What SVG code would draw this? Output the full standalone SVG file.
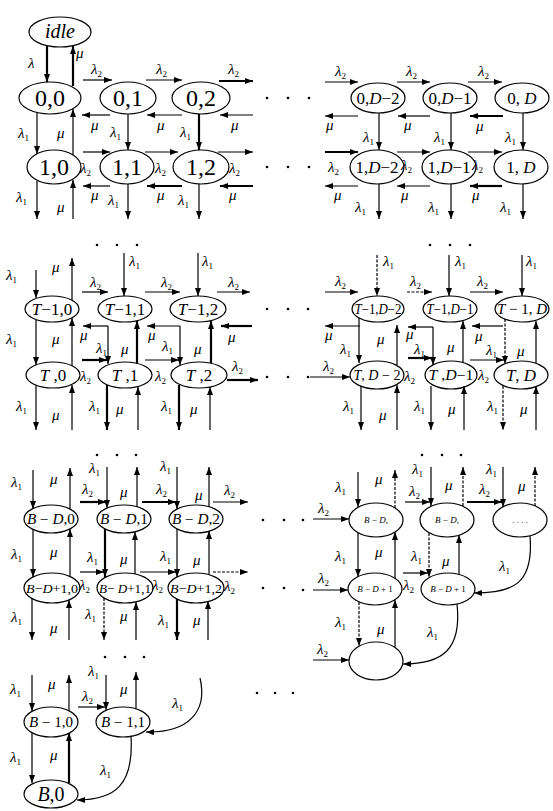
<svg xmlns="http://www.w3.org/2000/svg" width="553" height="811" viewBox="0 0 553 811">
<defs>
<marker id="a" viewBox="0 0 8 6" refX="8" refY="3" markerWidth="8" markerHeight="6" markerUnits="userSpaceOnUse" orient="auto"><path d="M0,0L8,3L0,6z" fill="#000"/></marker>
<style>
.n ellipse{fill:#fff;stroke:#000;stroke-width:1.2}
.n text{font-family:"Liberation Serif",serif;text-anchor:middle;fill:#000}
.big{font-size:24px}
.md{font-size:17px}
.sm{font-size:14px}
.xs{font-size:9px}
.i{font-style:italic}
#edges line,#edges path{stroke:#000;stroke-width:1.2;fill:none;marker-end:url(#a)}
#edges .t{stroke-width:2.2}
#edges .d{stroke-dasharray:3 1.5}
.l{font-family:"Liberation Serif",serif;font-style:italic;font-size:15px;fill:#000}
.s{font-size:9px;font-style:normal}
#dots circle{fill:#000}
</style>
</defs>
<rect width="553" height="811" fill="#fff"/>

<g id="n-idle" class="n"><ellipse cx="60" cy="32" rx="31" ry="15"/><text x="60" y="38" class="i" style="font-size:20px">idle</text></g>
<g id="n-0-0" class="n"><ellipse cx="50" cy="98" rx="31" ry="16"/><text x="50" y="106" class="big">0,0</text></g>
<g id="n-0-1" class="n"><ellipse cx="128" cy="98" rx="28" ry="16"/><text x="128" y="106" class="big">0,1</text></g>
<g id="n-0-2" class="n"><ellipse cx="201" cy="98" rx="29" ry="16"/><text x="201" y="106" class="big">0,2</text></g>
<g id="n-1-0" class="n"><ellipse cx="54" cy="167" rx="27" ry="17"/><text x="54" y="175" class="big">1,0</text></g>
<g id="n-1-1" class="n"><ellipse cx="127" cy="167" rx="27" ry="17"/><text x="127" y="175" class="big">1,1</text></g>
<g id="n-1-2" class="n"><ellipse cx="201" cy="167" rx="28" ry="17"/><text x="201" y="175" class="big">1,2</text></g>

<g id="n-0-D2" class="n"><ellipse cx="378" cy="98" rx="27" ry="15"/><text x="378" y="104" class="md">0,<tspan class="i">D</tspan>−2</text></g>
<g id="n-0-D1" class="n"><ellipse cx="450" cy="98" rx="27" ry="15"/><text x="450" y="104" class="md">0,<tspan class="i">D</tspan>−1</text></g>
<g id="n-0-D" class="n"><ellipse cx="522" cy="98" rx="27" ry="15"/><text x="522" y="104" class="md">0, <tspan class="i">D</tspan></text></g>
<g id="n-1-D2" class="n"><ellipse cx="377" cy="167" rx="27" ry="17"/><text x="377" y="173" class="md">1,<tspan class="i">D</tspan>−2</text></g>
<g id="n-1-D1" class="n"><ellipse cx="449" cy="167" rx="27" ry="17"/><text x="449" y="173" class="md">1,<tspan class="i">D</tspan>−1</text></g>
<g id="n-1-D" class="n"><ellipse cx="521" cy="167" rx="27" ry="17"/><text x="521" y="173" class="md">1, <tspan class="i">D</tspan></text></g>

<g id="n-T1-0" class="n"><ellipse cx="52" cy="309" rx="27" ry="13"/><text x="52" y="315" class="md"><tspan class="i">T</tspan>−1,0</text></g>
<g id="n-T1-1" class="n"><ellipse cx="125" cy="309" rx="27" ry="13"/><text x="125" y="315" class="md"><tspan class="i">T</tspan>−1,1</text></g>
<g id="n-T1-2" class="n"><ellipse cx="198" cy="309" rx="28" ry="13"/><text x="198" y="315" class="md"><tspan class="i">T</tspan>−1,2</text></g>
<g id="n-T-0" class="n"><ellipse cx="53" cy="375" rx="27" ry="13"/><text x="53" y="381" class="md"><tspan class="i">T</tspan> ,0</text></g>
<g id="n-T-1" class="n"><ellipse cx="125" cy="375" rx="27" ry="13"/><text x="125" y="381" class="md"><tspan class="i">T</tspan> ,1</text></g>
<g id="n-T-2" class="n"><ellipse cx="199" cy="375" rx="28" ry="13"/><text x="199" y="381" class="md"><tspan class="i">T</tspan> ,2</text></g>

<g id="n-T1-D2" class="n"><ellipse cx="378" cy="309" rx="26" ry="13"/><text x="378" y="314" class="sm" textLength="47" lengthAdjust="spacingAndGlyphs"><tspan class="i">T</tspan>−1,<tspan class="i">D</tspan>−2</text></g>
<g id="n-T1-D1" class="n"><ellipse cx="450" cy="309" rx="27" ry="13"/><text x="450" y="314" class="sm" textLength="47" lengthAdjust="spacingAndGlyphs"><tspan class="i">T</tspan>−1,<tspan class="i">D</tspan>−1</text></g>
<g id="n-T1-D" class="n"><ellipse cx="522" cy="309" rx="27" ry="13"/><text x="522" y="314" style="font-size:15px"><tspan class="i">T</tspan> − 1, <tspan class="i">D</tspan></text></g>
<g id="n-T-D2" class="n"><ellipse cx="377" cy="375" rx="27" ry="14"/><text x="377" y="380" class="sm" textLength="47" lengthAdjust="spacingAndGlyphs"><tspan class="i">T</tspan>, <tspan class="i">D</tspan> − 2</text></g>
<g id="n-T-D1" class="n"><ellipse cx="451" cy="375" rx="26" ry="14"/><text x="451" y="380" class="sm" textLength="45" lengthAdjust="spacingAndGlyphs"><tspan class="i">T</tspan> ,<tspan class="i">D</tspan>−1</text></g>
<g id="n-T-D" class="n"><ellipse cx="521" cy="375" rx="27" ry="14"/><text x="521" y="381" class="md"><tspan class="i">T</tspan>, <tspan class="i">D</tspan></text></g>

<g id="n-BD-0" class="n"><ellipse cx="51" cy="519" rx="27" ry="14"/><text x="51" y="524" class="sm" textLength="48" lengthAdjust="spacingAndGlyphs"><tspan class="i">B</tspan> − <tspan class="i">D</tspan>,0</text></g>
<g id="n-BD-1" class="n"><ellipse cx="124" cy="519" rx="27" ry="14"/><text x="124" y="524" class="sm" textLength="48" lengthAdjust="spacingAndGlyphs"><tspan class="i">B</tspan> − <tspan class="i">D</tspan>,1</text></g>
<g id="n-BD-2" class="n"><ellipse cx="196" cy="519" rx="27" ry="14"/><text x="196" y="524" class="sm" textLength="48" lengthAdjust="spacingAndGlyphs"><tspan class="i">B</tspan> − <tspan class="i">D</tspan>,2</text></g>
<g id="n-BD1-0" class="n"><ellipse cx="52" cy="588" rx="28" ry="15"/><text x="52" y="593" style="font-size:13px" textLength="52" lengthAdjust="spacingAndGlyphs"><tspan class="i">B</tspan>−<tspan class="i">D</tspan>+1,0</text></g>
<g id="n-BD1-1" class="n"><ellipse cx="125" cy="588" rx="28" ry="15"/><text x="125" y="593" style="font-size:13px" textLength="52" lengthAdjust="spacingAndGlyphs"><tspan class="i">B</tspan>− <tspan class="i">D</tspan>+1,1</text></g>
<g id="n-BD1-2" class="n"><ellipse cx="196" cy="588" rx="28" ry="15"/><text x="196" y="593" style="font-size:13px" textLength="52" lengthAdjust="spacingAndGlyphs"><tspan class="i">B</tspan>−<tspan class="i">D</tspan>+1,2</text></g>
<g id="n-B1-0" class="n"><ellipse cx="51" cy="722" rx="27" ry="15"/><text x="51" y="727" class="sm" textLength="44" lengthAdjust="spacingAndGlyphs"><tspan class="i">B</tspan> − 1,0</text></g>
<g id="n-B1-1" class="n"><ellipse cx="123" cy="722" rx="27" ry="15"/><text x="123" y="727" class="sm" textLength="44" lengthAdjust="spacingAndGlyphs"><tspan class="i">B</tspan> − 1,1</text></g>
<g id="n-B-0" class="n"><ellipse cx="51" cy="794" rx="27" ry="14"/><text x="51" y="801" style="font-size:20px"><tspan class="i">B</tspan>,0</text></g>

<g id="n-r-a1" class="n"><ellipse cx="376" cy="520" rx="27" ry="17"/><text x="376" y="523" class="xs"><tspan class="i">B</tspan> − <tspan class="i">D</tspan>,</text></g>
<g id="n-r-a2" class="n"><ellipse cx="447" cy="520" rx="27" ry="17"/><text x="447" y="523" class="xs"><tspan class="i">B</tspan> − <tspan class="i">D</tspan>,</text></g>
<g id="n-r-a3" class="n"><ellipse cx="520" cy="520" rx="27" ry="17"/><text x="520" y="523" class="xs">.  .  . .</text></g>
<g id="n-r-b1" class="n"><ellipse cx="375" cy="589" rx="27" ry="16"/><text x="375" y="592" class="xs"><tspan class="i">B</tspan> − <tspan class="i">D</tspan> + 1</text></g>
<g id="n-r-b2" class="n"><ellipse cx="448" cy="589" rx="27" ry="16"/><text x="448" y="592" class="xs"><tspan class="i">B</tspan> − <tspan class="i">D</tspan> + 1</text></g>
<g id="n-r-c" class="n"><ellipse cx="376" cy="661" rx="27" ry="19"/></g>

<g id="edges">
<line class="t" x1="47" y1="46" x2="47" y2="82"/>
<line class="t" x1="73" y1="86" x2="73" y2="46"/>
<line x1="83" y1="80" x2="112" y2="80"/>
<line x1="146" y1="80" x2="182" y2="80"/>
<line class="t" x1="219" y1="81" x2="253" y2="81"/>
<line x1="110" y1="115" x2="82" y2="115"/>
<line x1="182" y1="115" x2="147" y2="115"/>
<line x1="253" y1="115" x2="220" y2="115"/>
<line x1="37" y1="113" x2="37" y2="154"/>
<line x1="73" y1="155" x2="73" y2="109"/>
<line x1="128" y1="114" x2="128" y2="150"/>
<line class="t" x1="199" y1="114" x2="199" y2="150"/>
<line x1="83" y1="152" x2="110" y2="152"/>
<line x1="145" y1="152" x2="178" y2="152"/>
<line x1="218" y1="152" x2="253" y2="152"/>
<line x1="110" y1="186" x2="83" y2="186"/>
<line class="t" x1="182" y1="186" x2="147" y2="186"/>
<line class="t" x1="253" y1="186" x2="220" y2="186"/>
<line x1="37" y1="181" x2="37" y2="219"/>
<line x1="73" y1="219" x2="73" y2="180"/>
<line x1="128" y1="184" x2="128" y2="219"/>
<line x1="199" y1="184" x2="199" y2="219"/>

<line x1="325" y1="82" x2="358" y2="82"/>
<line x1="397" y1="82" x2="430" y2="82"/>
<line x1="468" y1="82" x2="502" y2="82"/>
<line x1="358" y1="116" x2="325" y2="116"/>
<line x1="430" y1="116" x2="398" y2="116"/>
<line class="t" x1="503" y1="116" x2="470" y2="116"/>
<line x1="379" y1="113" x2="379" y2="150"/>
<line x1="451" y1="113" x2="451" y2="150"/>
<line x1="523" y1="113" x2="523" y2="150"/>
<line class="t" x1="325" y1="152" x2="358" y2="152"/>
<line x1="397" y1="152" x2="430" y2="152"/>
<line x1="468" y1="152" x2="502" y2="152"/>
<line x1="358" y1="186" x2="325" y2="186"/>
<line x1="430" y1="186" x2="397" y2="186"/>
<line class="t" x1="502" y1="186" x2="470" y2="186"/>
<line x1="379" y1="184" x2="379" y2="219"/>
<line x1="451" y1="184" x2="451" y2="219"/>
<line x1="523" y1="184" x2="523" y2="219"/>

<line x1="36" y1="270" x2="36" y2="298"/>
<line x1="72" y1="300" x2="72" y2="258"/>
<line x1="124" y1="253" x2="124" y2="296"/>
<line x1="198" y1="253" x2="198" y2="296"/>
<line x1="82" y1="292" x2="108" y2="292"/>
<line x1="145" y1="292" x2="180" y2="292"/>
<line x1="217" y1="292" x2="250" y2="292"/>
<line x1="36" y1="320" x2="36" y2="365"/>
<line x1="72" y1="366" x2="72" y2="318"/>
<line x1="108" y1="326" x2="83" y2="326"/>
<line x1="108" y1="326" x2="108" y2="364"/>
<line class="t" x1="82" y1="360" x2="107" y2="360"/>
<line class="t" x1="137" y1="363" x2="137" y2="321"/>
<line x1="180" y1="326" x2="147" y2="326"/>
<line x1="180" y1="326" x2="180" y2="365"/>
<line x1="145" y1="360" x2="179" y2="360"/>
<line class="t" x1="211" y1="363" x2="211" y2="321"/>
<line class="t" x1="252" y1="326" x2="221" y2="326"/>
<line class="t" x1="227" y1="380" x2="258" y2="380"/>
<line x1="36" y1="385" x2="36" y2="430"/>
<line x1="72" y1="430" x2="72" y2="385"/>
<line class="t" x1="107" y1="385" x2="107" y2="430"/>
<line x1="138" y1="430" x2="138" y2="387"/>
<line class="t" x1="179" y1="385" x2="179" y2="430"/>
<line x1="210" y1="430" x2="210" y2="387"/>

<line class="d" x1="377" y1="255" x2="377" y2="296"/>
<line x1="325" y1="292" x2="358" y2="292"/>
<line x1="449" y1="255" x2="449" y2="296"/>
<line class="d" x1="407" y1="292" x2="432" y2="292"/>
<line x1="522" y1="255" x2="522" y2="296"/>
<line x1="470" y1="292" x2="503" y2="292"/>
<line x1="360" y1="326" x2="325" y2="326"/>
<line x1="359" y1="318" x2="359" y2="363"/>
<line x1="397" y1="365" x2="397" y2="325"/>
<line x1="433" y1="327" x2="408" y2="327"/>
<line x1="433" y1="327" x2="433" y2="365"/>
<line class="t" x1="408" y1="358" x2="432" y2="358"/>
<line x1="463" y1="363" x2="463" y2="321"/>
<line x1="503" y1="326" x2="472" y2="326"/>
<line class="d" x1="505" y1="319" x2="505" y2="364"/>
<line x1="470" y1="360" x2="504" y2="360"/>
<line x1="536" y1="363" x2="536" y2="321"/>
<line x1="310" y1="377" x2="350" y2="377"/>
<line x1="361" y1="386" x2="361" y2="430"/>
<line x1="397" y1="430" x2="397" y2="385"/>
<line x1="431" y1="386" x2="431" y2="430"/>
<line x1="464" y1="430" x2="464" y2="386"/>
<line class="d" x1="503" y1="386" x2="503" y2="430"/>
<line x1="536" y1="430" x2="536" y2="386"/>

<line x1="33" y1="470" x2="33" y2="509"/>
<line x1="70" y1="509" x2="70" y2="468"/>
<line x1="107" y1="467" x2="107" y2="508"/>
<line x1="137" y1="507" x2="137" y2="467"/>
<line class="t" x1="80" y1="502" x2="106" y2="502"/>
<line x1="177" y1="467" x2="177" y2="509"/>
<line x1="209" y1="507" x2="209" y2="467"/>
<line class="t" x1="142" y1="502" x2="176" y2="502"/>
<line x1="213" y1="502" x2="248" y2="502"/>
<line x1="33" y1="529" x2="33" y2="577"/>
<line x1="70" y1="576" x2="70" y2="529"/>
<line class="t" x1="105" y1="529" x2="105" y2="577"/>
<line x1="135" y1="574" x2="135" y2="532"/>
<line x1="177" y1="529" x2="177" y2="577"/>
<line x1="209" y1="575" x2="209" y2="531"/>
<line x1="80" y1="572" x2="104" y2="572"/>
<line x1="140" y1="572" x2="176" y2="572"/>
<line class="d" x1="213" y1="572" x2="248" y2="572"/>
<line x1="32" y1="598" x2="32" y2="640"/>
<line x1="69" y1="640" x2="69" y2="600"/>
<line class="d" x1="104" y1="598" x2="104" y2="640"/>
<line x1="136" y1="640" x2="136" y2="602"/>
<line class="t" x1="177" y1="599" x2="177" y2="640"/>
<line x1="208" y1="640" x2="208" y2="601"/>
<line x1="32" y1="675" x2="32" y2="711"/>
<line x1="69" y1="711" x2="69" y2="675"/>
<line x1="106" y1="675" x2="106" y2="710"/>
<line x1="136" y1="709" x2="136" y2="672"/>
<line x1="78" y1="707" x2="105" y2="707"/>
<path d="M200,678 C208,712 188,733 146,732"/>
<line x1="32" y1="733" x2="32" y2="783"/>
<line class="t" x1="69" y1="783" x2="69" y2="733"/>
<path d="M131,736 C134,785 115,800 77,800"/>

<line x1="358" y1="472" x2="358" y2="507"/>
<line class="d" x1="395" y1="508" x2="395" y2="470"/>
<line x1="313" y1="519" x2="349" y2="519"/>
<line x1="431" y1="467" x2="431" y2="506"/>
<line x1="405" y1="502" x2="430" y2="502"/>
<line class="d" x1="463" y1="506" x2="463" y2="467"/>
<line x1="503" y1="467" x2="503" y2="507"/>
<line class="t" x1="467" y1="502" x2="502" y2="502"/>
<line class="d" x1="535" y1="506" x2="535" y2="467"/>
<line x1="358" y1="533" x2="358" y2="577"/>
<line x1="395" y1="578" x2="395" y2="532"/>
<line class="d" x1="429" y1="533" x2="429" y2="577"/>
<line x1="459" y1="574" x2="459" y2="535"/>
<line x1="403" y1="573" x2="428" y2="573"/>
<path d="M530,536 C534,585 512,593 474,593"/>
<line x1="313" y1="590" x2="348" y2="590"/>
<line class="d" x1="359" y1="602" x2="359" y2="646"/>
<line x1="395" y1="647" x2="395" y2="600"/>
<path d="M457,604 C462,650 442,664 403,664"/>
<line x1="313" y1="660" x2="349" y2="660"/>
</g>

<g id="labels">
<text class="l" x="28" y="68">λ</text>
<text class="l" x="76" y="58">μ</text>
<text class="l" x="91" y="74">λ<tspan class="s" dy="3">2</tspan></text>
<text class="l" x="156" y="74">λ<tspan class="s" dy="3">2</tspan></text>
<text class="l" x="228" y="74">λ<tspan class="s" dy="3">2</tspan></text>
<text class="l" x="91" y="130">μ</text>
<text class="l" x="157" y="130">μ</text>
<text class="l" x="231" y="130">μ</text>
<text class="l" x="18" y="138">λ<tspan class="s" dy="3">1</tspan></text>
<text class="l" x="57" y="138">μ</text>
<text class="l" x="110" y="137">λ<tspan class="s" dy="3">1</tspan></text>
<text class="l" x="180" y="137">λ<tspan class="s" dy="3">1</tspan></text>
<text class="l" x="80" y="173">λ<tspan class="s" dy="3">2</tspan></text>
<text class="l" x="155" y="173">λ<tspan class="s" dy="3">2</tspan></text>
<text class="l" x="229" y="173">λ<tspan class="s" dy="3">2</tspan></text>
<text class="l" x="91" y="200">μ</text>
<text class="l" x="157" y="200">μ</text>
<text class="l" x="229" y="200">μ</text>
<text class="l" x="16" y="202">λ<tspan class="s" dy="3">1</tspan></text>
<text class="l" x="57" y="212">μ</text>
<text class="l" x="108" y="205">λ<tspan class="s" dy="3">1</tspan></text>
<text class="l" x="178" y="205">λ<tspan class="s" dy="3">1</tspan></text>

<text class="l" x="335" y="76">λ<tspan class="s" dy="3">2</tspan></text>
<text class="l" x="406" y="76">λ<tspan class="s" dy="3">2</tspan></text>
<text class="l" x="478" y="76">λ<tspan class="s" dy="3">2</tspan></text>
<text class="l" x="326" y="130">μ</text>
<text class="l" x="404" y="130">μ</text>
<text class="l" x="476" y="131">μ</text>
<text class="l" x="363" y="142">λ<tspan class="s" dy="3">1</tspan></text>
<text class="l" x="434" y="142">λ<tspan class="s" dy="3">1</tspan></text>
<text class="l" x="505" y="142">λ<tspan class="s" dy="3">1</tspan></text>
<text class="l" x="328" y="172">λ<tspan class="s" dy="3">2</tspan></text>
<text class="l" x="401" y="170">λ<tspan class="s" dy="3">2</tspan></text>
<text class="l" x="472" y="170">λ<tspan class="s" dy="3">2</tspan></text>
<text class="l" x="334" y="200">μ</text>
<text class="l" x="401" y="200">μ</text>
<text class="l" x="472" y="200">μ</text>
<text class="l" x="355" y="212">λ<tspan class="s" dy="3">1</tspan></text>
<text class="l" x="428" y="212">λ<tspan class="s" dy="3">1</tspan></text>
<text class="l" x="500" y="212">λ<tspan class="s" dy="3">1</tspan></text>

<text class="l" x="6" y="280">λ<tspan class="s" dy="3">1</tspan></text>
<text class="l" x="52" y="272">μ</text>
<text class="l" x="129" y="266">λ<tspan class="s" dy="3">1</tspan></text>
<text class="l" x="202" y="266">λ<tspan class="s" dy="3">1</tspan></text>
<text class="l" x="90" y="287">λ<tspan class="s" dy="3">2</tspan></text>
<text class="l" x="161" y="287">λ<tspan class="s" dy="3">2</tspan></text>
<text class="l" x="228" y="287">λ<tspan class="s" dy="3">2</tspan></text>
<text class="l" x="6" y="344">λ<tspan class="s" dy="3">1</tspan></text>
<text class="l" x="52" y="344">μ</text>
<text class="l" x="80" y="340">μ</text>
<text class="l" x="96" y="353">λ<tspan class="s" dy="3">1</tspan></text>
<text class="l" x="121" y="354">μ</text>
<text class="l" x="148" y="340">μ</text>
<text class="l" x="162" y="351">λ<tspan class="s" dy="3">1</tspan></text>
<text class="l" x="194" y="354">μ</text>
<text class="l" x="228" y="342">μ</text>
<text class="l" x="80" y="381">λ<tspan class="s" dy="3">2</tspan></text>
<text class="l" x="155" y="381">λ<tspan class="s" dy="3">2</tspan></text>
<text class="l" x="232" y="371">λ<tspan class="s" dy="3">2</tspan></text>
<text class="l" x="16" y="411">λ<tspan class="s" dy="3">1</tspan></text>
<text class="l" x="52" y="420">μ</text>
<text class="l" x="89" y="411">λ<tspan class="s" dy="3">1</tspan></text>
<text class="l" x="116" y="414">μ</text>
<text class="l" x="161" y="411">λ<tspan class="s" dy="3">1</tspan></text>
<text class="l" x="190" y="414">μ</text>

<text class="l" x="383" y="266">λ<tspan class="s" dy="3">1</tspan></text>
<text class="l" x="335" y="286">λ<tspan class="s" dy="3">2</tspan></text>
<text class="l" x="455" y="266">λ<tspan class="s" dy="3">1</tspan></text>
<text class="l" x="410" y="286">λ<tspan class="s" dy="3">2</tspan></text>
<text class="l" x="526" y="266">λ<tspan class="s" dy="3">1</tspan></text>
<text class="l" x="477" y="286">λ<tspan class="s" dy="3">2</tspan></text>
<text class="l" x="325" y="340">μ</text>
<text class="l" x="340" y="354">λ<tspan class="s" dy="3">1</tspan></text>
<text class="l" x="377" y="344">μ</text>
<text class="l" x="406" y="339">μ</text>
<text class="l" x="414" y="354">λ<tspan class="s" dy="3">1</tspan></text>
<text class="l" x="447" y="352">μ</text>
<text class="l" x="475" y="341">μ</text>
<text class="l" x="486" y="355">λ<tspan class="s" dy="3">1</tspan></text>
<text class="l" x="517" y="356">μ</text>
<text class="l" x="323" y="371">λ<tspan class="s" dy="3">2</tspan></text>
<text class="l" x="404" y="381">λ<tspan class="s" dy="3">2</tspan></text>
<text class="l" x="478" y="380">λ<tspan class="s" dy="3">2</tspan></text>
<text class="l" x="343" y="411">λ<tspan class="s" dy="3">1</tspan></text>
<text class="l" x="379" y="420">μ</text>
<text class="l" x="414" y="411">λ<tspan class="s" dy="3">1</tspan></text>
<text class="l" x="448" y="414">μ</text>
<text class="l" x="487" y="411">λ<tspan class="s" dy="3">1</tspan></text>
<text class="l" x="520" y="414">μ</text>

<text class="l" x="11" y="487">λ<tspan class="s" dy="3">1</tspan></text>
<text class="l" x="50" y="484">μ</text>
<text class="l" x="89" y="473">λ<tspan class="s" dy="3">1</tspan></text>
<text class="l" x="120" y="497">μ</text>
<text class="l" x="82" y="494">λ<tspan class="s" dy="3">2</tspan></text>
<text class="l" x="160" y="471">λ<tspan class="s" dy="3">1</tspan></text>
<text class="l" x="195" y="500">μ</text>
<text class="l" x="156" y="494">λ<tspan class="s" dy="3">2</tspan></text>
<text class="l" x="224" y="495">λ<tspan class="s" dy="3">2</tspan></text>
<text class="l" x="11" y="559">λ<tspan class="s" dy="3">1</tspan></text>
<text class="l" x="50" y="557">μ</text>
<text class="l" x="87" y="562">λ<tspan class="s" dy="3">1</tspan></text>
<text class="l" x="120" y="564">μ</text>
<text class="l" x="160" y="561">λ<tspan class="s" dy="3">1</tspan></text>
<text class="l" x="193" y="565">μ</text>
<text class="l" x="79" y="590">λ<tspan class="s" dy="3">2</tspan></text>
<text class="l" x="152" y="590">λ<tspan class="s" dy="3">2</tspan></text>
<text class="l" x="224" y="591">λ<tspan class="s" dy="3">2</tspan></text>
<text class="l" x="11" y="622">λ<tspan class="s" dy="3">1</tspan></text>
<text class="l" x="50" y="633">μ</text>
<text class="l" x="85" y="619">λ<tspan class="s" dy="3">1</tspan></text>
<text class="l" x="120" y="621">μ</text>
<text class="l" x="158" y="625">λ<tspan class="s" dy="3">1</tspan></text>
<text class="l" x="193" y="625">μ</text>
<text class="l" x="10" y="694">λ<tspan class="s" dy="3">1</tspan></text>
<text class="l" x="48" y="689">μ</text>
<text class="l" x="88" y="676">λ<tspan class="s" dy="3">1</tspan></text>
<text class="l" x="120" y="694">μ</text>
<text class="l" x="82" y="701">λ<tspan class="s" dy="3">2</tspan></text>
<text class="l" x="172" y="708">λ<tspan class="s" dy="3">1</tspan></text>
<text class="l" x="10" y="762">λ<tspan class="s" dy="3">1</tspan></text>
<text class="l" x="50" y="760">μ</text>
<text class="l" x="100" y="775">λ<tspan class="s" dy="3">1</tspan></text>

<text class="l" x="335" y="492">λ<tspan class="s" dy="3">1</tspan></text>
<text class="l" x="375" y="484">μ</text>
<text class="l" x="318" y="513">λ<tspan class="s" dy="3">2</tspan></text>
<text class="l" x="412" y="474">λ<tspan class="s" dy="3">1</tspan></text>
<text class="l" x="409" y="496">λ<tspan class="s" dy="3">2</tspan></text>
<text class="l" x="445" y="490">μ</text>
<text class="l" x="486" y="474">λ<tspan class="s" dy="3">1</tspan></text>
<text class="l" x="479" y="494">λ<tspan class="s" dy="3">2</tspan></text>
<text class="l" x="518" y="491">μ</text>
<text class="l" x="335" y="561">λ<tspan class="s" dy="3">1</tspan></text>
<text class="l" x="375" y="557">μ</text>
<text class="l" x="411" y="561">λ<tspan class="s" dy="3">1</tspan></text>
<text class="l" x="442" y="566">μ</text>
<text class="l" x="499" y="571">λ<tspan class="s" dy="3">1</tspan></text>
<text class="l" x="318" y="583">λ<tspan class="s" dy="3">2</tspan></text>
<text class="l" x="403" y="590">λ<tspan class="s" dy="3">2</tspan></text>
<text class="l" x="335" y="627">λ<tspan class="s" dy="3">1</tspan></text>
<text class="l" x="377" y="634">μ</text>
<text class="l" x="427" y="637">λ<tspan class="s" dy="3">1</tspan></text>
<text class="l" x="317" y="654">λ<tspan class="s" dy="3">2</tspan></text>
</g>

<g id="dots">
<circle cx="267" cy="98" r="1.3"/><circle cx="288" cy="98" r="1.3"/><circle cx="309" cy="98" r="1.3"/>
<circle cx="267" cy="167" r="1.3"/><circle cx="288" cy="167" r="1.3"/><circle cx="309" cy="167" r="1.3"/>
<circle cx="97" cy="245" r="1.3"/><circle cx="117" cy="245" r="1.3"/><circle cx="137" cy="245" r="1.3"/>
<circle cx="430" cy="245" r="1.3"/><circle cx="450" cy="245" r="1.3"/><circle cx="470" cy="245" r="1.3"/>
<circle cx="267" cy="309" r="1.3"/><circle cx="288" cy="309" r="1.3"/><circle cx="308" cy="309" r="1.3"/>
<circle cx="267" cy="377" r="1.3"/><circle cx="288" cy="377" r="1.3"/><circle cx="308" cy="377" r="1.3"/>
<circle cx="97" cy="455" r="1.3"/><circle cx="117" cy="455" r="1.3"/><circle cx="136" cy="455" r="1.3"/>
<circle cx="422" cy="455" r="1.3"/><circle cx="442" cy="455" r="1.3"/><circle cx="461" cy="455" r="1.3"/>
<circle cx="263" cy="520" r="1.3"/><circle cx="284" cy="520" r="1.3"/><circle cx="303" cy="520" r="1.3"/>
<circle cx="263" cy="588" r="1.3"/><circle cx="284" cy="588" r="1.3"/><circle cx="303" cy="590" r="1.3"/>
<circle cx="105" cy="657" r="1.3"/><circle cx="125" cy="657" r="1.3"/><circle cx="144" cy="657" r="1.3"/>
<circle cx="257" cy="693" r="1.3"/><circle cx="275" cy="693" r="1.3"/><circle cx="293" cy="693" r="1.3"/>
</g>
</svg>
